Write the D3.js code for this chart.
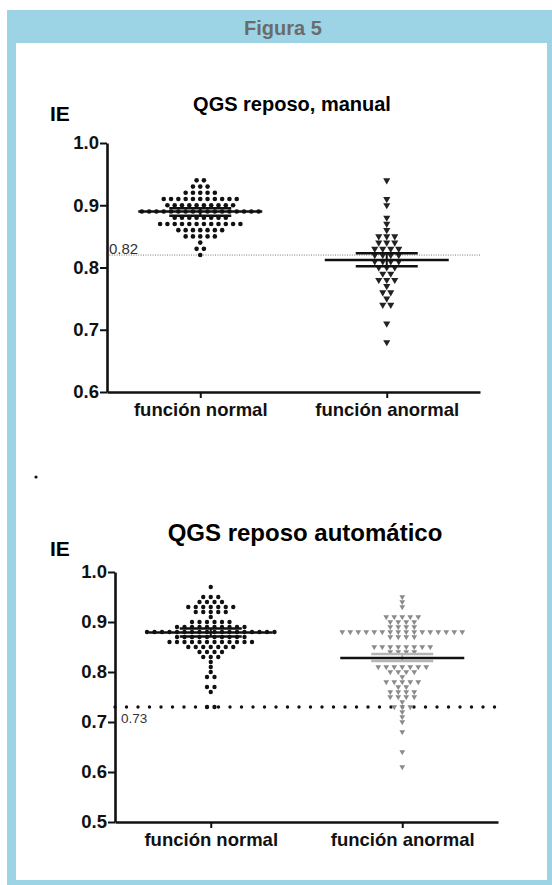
<!DOCTYPE html>
<html>
<head>
<meta charset="utf-8">
<script src="https://cdn.jsdelivr.net/npm/d3@7"></script>
<style>
  body { margin: 0; background: #fff; }
  svg { display: block; font-family: "Liberation Sans", Arial, sans-serif; }
</style>
</head>
<body>
<svg id="fig" width="552" height="885"></svg>
<script>
// categories shared by both panels
var categories = ["función normal", "función anormal"];

// panel 1: QGS reposo, manual (one value per patient)
var manualNormal = [
  0.94, 0.94,
  0.93, 0.93, 0.93,
  0.92, 0.92, 0.92, 0.92, 0.92,
  0.91, 0.91, 0.91, 0.91, 0.91, 0.91, 0.91, 0.91, 0.91, 0.91, 0.91,
  0.90, 0.90, 0.90, 0.90, 0.90, 0.90, 0.90, 0.90, 0.90, 0.90,
  0.89, 0.89, 0.89, 0.89, 0.89, 0.89, 0.89, 0.89, 0.89, 0.89, 0.89, 0.89, 0.89, 0.89, 0.89, 0.89, 0.89,
  0.88, 0.88, 0.88, 0.88, 0.88, 0.88, 0.88, 0.88,
  0.87, 0.87, 0.87, 0.87, 0.87, 0.87, 0.87, 0.87, 0.87, 0.87, 0.87, 0.87,
  0.86, 0.86, 0.86, 0.86, 0.86, 0.86, 0.86,
  0.85, 0.85, 0.85, 0.85, 0.85,
  0.84,
  0.83, 0.83,
  0.82
];
var manualAbnormal = [
  0.94, 0.91, 0.90, 0.88, 0.87, 0.86,
  0.85, 0.85, 0.85,
  0.84, 0.84, 0.84,
  0.83, 0.83, 0.83, 0.83,
  0.82, 0.82, 0.82, 0.82,
  0.81, 0.81, 0.81, 0.81,
  0.80, 0.80, 0.80,
  0.79, 0.79,
  0.78, 0.78, 0.78,
  0.77,
  0.76, 0.76,
  0.75,
  0.74, 0.74,
  0.71, 0.68
];
// centre line and error bars [centre, low, high]
var manualStats = [[0.89, 0.883, 0.895], [0.812, 0.802, 0.823]];
var manualCutoff = 0.82;

// panel 2: QGS reposo automático
var autoNormal = [
  0.97,
  0.95, 0.95, 0.95,
  0.94, 0.94, 0.94, 0.94,
  0.93, 0.93, 0.93, 0.93, 0.93, 0.93, 0.93,
  0.92, 0.92, 0.92, 0.92, 0.92,
  0.91,
  0.90, 0.90, 0.90, 0.90, 0.90, 0.90,
  0.89, 0.89, 0.89, 0.89, 0.89, 0.89, 0.89, 0.89, 0.89, 0.89,
  0.88, 0.88, 0.88, 0.88, 0.88, 0.88, 0.88, 0.88, 0.88, 0.88, 0.88, 0.88, 0.88, 0.88, 0.88, 0.88, 0.88, 0.88,
  0.87, 0.87, 0.87, 0.87, 0.87, 0.87, 0.87, 0.87, 0.87, 0.87,
  0.86, 0.86, 0.86, 0.86, 0.86, 0.86, 0.86, 0.86, 0.86, 0.86, 0.86, 0.86,
  0.85, 0.85, 0.85, 0.85, 0.85, 0.85, 0.85,
  0.84, 0.84, 0.84, 0.84,
  0.83, 0.83, 0.83,
  0.82, 0.81, 0.80,
  0.79, 0.79,
  0.77, 0.77,
  0.76,
  0.73, 0.73
];
var autoAbnormal = [
  0.95, 0.94, 0.93,
  0.91, 0.91, 0.91, 0.91, 0.91,
  0.90, 0.90, 0.90, 0.90,
  0.89, 0.89, 0.89, 0.89,
  0.88, 0.88, 0.88, 0.88, 0.88, 0.88, 0.88, 0.88, 0.88, 0.88, 0.88, 0.88, 0.88, 0.88, 0.88, 0.88,
  0.87, 0.87, 0.87, 0.87,
  0.85, 0.85, 0.85, 0.85, 0.85, 0.85, 0.85, 0.85,
  0.84, 0.84, 0.84, 0.84,
  0.81, 0.81, 0.81, 0.81, 0.81, 0.81, 0.81,
  0.80, 0.80, 0.80, 0.80,
  0.79,
  0.78, 0.78, 0.78, 0.78, 0.78,
  0.77, 0.77,
  0.76, 0.76, 0.76, 0.76,
  0.75, 0.75, 0.75, 0.75,
  0.74,
  0.73, 0.73, 0.73,
  0.72, 0.71, 0.70, 0.68, 0.64, 0.61
];
var autoStats = [[0.879, 0.871, 0.887], [0.828, 0.822, 0.836]];
var autoCutoff = 0.73;

var manualTicks = [0.6, 0.7, 0.8, 0.9, 1.0];
var autoTicks = [0.5, 0.6, 0.7, 0.8, 0.9, 1.0];

var svg = d3.select("#fig");

// frame with the blue header band
svg.append("rect")
    .attr("x", 7).attr("y", 10)
    .attr("width", 545).attr("height", 875)
    .attr("fill", "#9dd4e5");
svg.append("rect")
    .attr("x", 16).attr("y", 43)
    .attr("width", 531).attr("height", 837)
    .attr("fill", "#fff");
svg.append("text")
    .attr("x", 283).attr("y", 35)
    .attr("text-anchor", "middle")
    .attr("font-size", 20).attr("font-weight", "bold")
    .attr("fill", "#6b6b6b")
    .text("Figura 5");

// stray dot between the panels
svg.append("circle")
    .attr("cx", 36).attr("cy", 477).attr("r", 1.6)
    .attr("fill", "#111");

//spread equal values side by side, centred on the category
function layoutRows(values, y, cx, step){
    var pts = [];
    d3.groups(values, d => d).forEach(function(g){
        var n = g[1].length;
        g[1].forEach(function(v, i){
            pts.push({v: v, x: cx + (i - (n - 1) / 2) * step, y: y(v)});
        });
    });
    return pts;
}

//draw one scatter dot panel
function createPanel(cfg){

    var y = d3.scaleLinear()
        .domain(cfg.domain)
        .range([cfg.bottom, cfg.top]);

    var x = d3.scalePoint()
        .domain(categories)
        .range([cfg.left, cfg.right])
        .padding(0.5);

    var g = svg.append("g");

    // title and y label
    g.append("text")
        .attr("x", cfg.titleX).attr("y", cfg.titleY)
        .attr("text-anchor", "middle")
        .attr("font-size", cfg.titleSize).attr("font-weight", "bold")
        .text(cfg.title);
    g.append("text")
        .attr("x", 50).attr("y", cfg.labelY)
        .attr("font-size", 21).attr("font-weight", "bold")
        .text("IE");

    // cutoff line
    var cut = g.append("line")
        .attr("x1", cfg.left).attr("x2", cfg.cutEnd)
        .attr("y1", y(cfg.cutoff)).attr("y2", y(cfg.cutoff));
    if (cfg.bigDots) {
        cut.attr("stroke", "#111")
            .attr("stroke-width", 3.4)
            .attr("stroke-linecap", "round")
            .attr("stroke-dasharray", "0,11.5");
    } else {
        cut.attr("stroke", "#777")
            .attr("stroke-width", 1)
            .attr("stroke-dasharray", "1,1.4");
    }
    g.append("text")
        .attr("x", cfg.cutLabelX).attr("y", y(cfg.cutoff) + cfg.cutLabelDy)
        .attr("font-size", cfg.cutLabelSize)
        .attr("fill", "#333")
        .text(cfg.cutoff.toFixed(2));

    // normal group: circles
    g.append("g").selectAll("circle")
        .data(layoutRows(cfg.normal, y, x(categories[0]), cfg.step))
        .enter()
        .append("circle")
        .attr("cx", d => d.x)
        .attr("cy", d => d.y)
        .attr("r", cfg.r)
        .attr("fill", "#111");

    // abnormal group: down triangles
    var tri = d3.symbol().type(d3.symbolTriangle).size(cfg.triSize);
    g.append("g").selectAll("path")
        .data(layoutRows(cfg.abnormal, y, x(categories[1]), cfg.triStep))
        .enter()
        .append("path")
        .attr("d", tri)
        .attr("transform", d => "translate(" + d.x + "," + d.y + ") rotate(180)")
        .attr("fill", cfg.triColor);

    // centre line and error bars
    cfg.stats.forEach(function(s, i){
        var cx = x(categories[i]);
        var col = i == 1 ? cfg.errColor : "#111";
        g.append("line")
            .attr("x1", cx).attr("x2", cx)
            .attr("y1", y(s[1])).attr("y2", y(s[2]))
            .attr("stroke", col).attr("stroke-width", 2);
        [s[1], s[2]].forEach(function(v){
            g.append("line")
                .attr("x1", cx - 31).attr("x2", cx + 31)
                .attr("y1", y(v)).attr("y2", y(v))
                .attr("stroke", col).attr("stroke-width", 2.5);
        });
        g.append("line")
            .attr("x1", cx - 62).attr("x2", cx + 62)
            .attr("y1", y(s[0])).attr("y2", y(s[0]))
            .attr("stroke", "#111").attr("stroke-width", 2.5);
    });

    // axes
    var yAxis = g.append("g")
        .attr("transform", "translate(" + cfg.left + ",0)")
        .call(d3.axisLeft(y)
            .tickValues(cfg.ticks)
            .tickSize(7)
            .tickSizeOuter(0)
            .tickPadding(1)
            .tickFormat(d3.format(".1f")));

    var xAxis = g.append("g")
        .attr("transform", "translate(0," + cfg.bottom + ")")
        .call(d3.axisBottom(x)
            .tickSize(6)
            .tickSizeOuter(0)
            .tickPadding(5));

    [yAxis, xAxis].forEach(function(a){
        a.select(".domain").attr("stroke", "#111").attr("stroke-width", 2.6);
        a.selectAll(".tick line").attr("stroke", "#111").attr("stroke-width", 2);
        a.selectAll(".tick text")
            .attr("fill", "#111")
            .attr("font-size", 18.5)
            .attr("font-weight", "bold")
            .attr("font-family", "Liberation Sans, Arial, sans-serif");
    });
}

createPanel({
    title: "QGS reposo, manual", titleSize: 20, titleX: 292, titleY: 111, labelY: 121,
    domain: [0.6, 1.0], ticks: manualTicks,
    left: 107, right: 480, top: 143, bottom: 392,
    normal: manualNormal, abnormal: manualAbnormal, stats: manualStats,
    cutoff: manualCutoff, cutEnd: 480, bigDots: false,
    cutLabelX: 109, cutLabelDy: -1, cutLabelSize: 15,
    step: 7.3, r: 2.3, triStep: 8, triSize: 22, triColor: "#222", errColor: "#111"
});

createPanel({
    title: "QGS reposo automático", titleSize: 24, titleX: 305, titleY: 541, labelY: 556,
    domain: [0.5, 1.0], ticks: autoTicks,
    left: 115, right: 498, top: 572, bottom: 822,
    normal: autoNormal, abnormal: autoAbnormal, stats: autoStats,
    cutoff: autoCutoff, cutEnd: 498, bigDots: true,
    cutLabelX: 121, cutLabelDy: 16, cutLabelSize: 13.5,
    step: 7.5, r: 2.2, triStep: 8, triSize: 14, triColor: "#8a8a8a", errColor: "#b5b5b5"
});
</script>
</body>
</html>
